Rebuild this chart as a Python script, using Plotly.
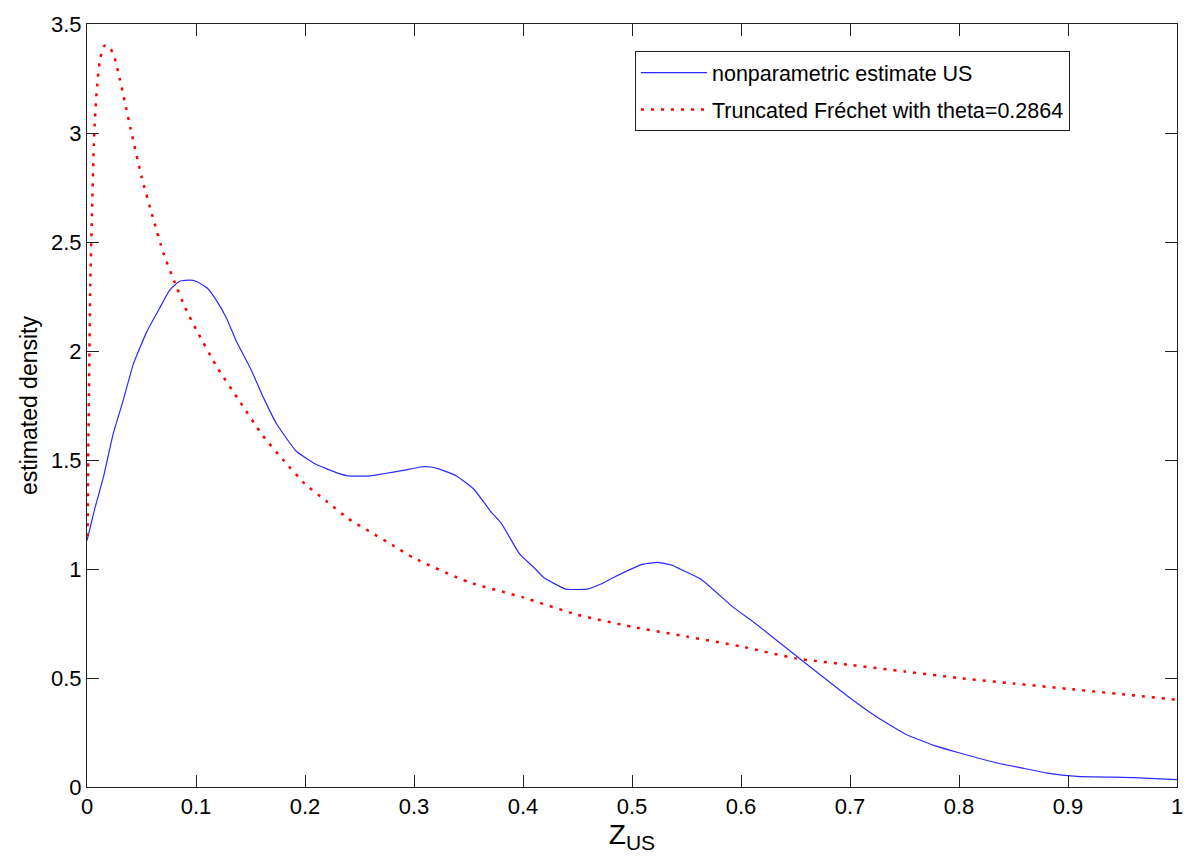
import plotly.graph_objects as go

# nonparametric estimate (blue)
blue_x = [0, 0.0073, 0.015, 0.024, 0.033, 0.0425, 0.055, 0.067, 0.076, 0.085, 0.0945, 0.1,
          0.11, 0.119, 0.128, 0.137, 0.15, 0.162, 0.174, 0.192, 0.211, 0.23, 0.24, 0.26,
          0.272, 0.29, 0.306, 0.315, 0.324, 0.339, 0.355, 0.37, 0.38, 0.397, 0.41, 0.419,
          0.439, 0.459, 0.471, 0.483, 0.51, 0.524, 0.538, 0.544, 0.563, 0.593, 0.612,
          0.654, 0.697, 0.725, 0.752, 0.777, 0.80, 0.835, 0.86, 0.881, 0.908, 0.96, 1.0]
blue_y = [1.13, 1.28, 1.42, 1.62, 1.77, 1.94, 2.09, 2.20, 2.28, 2.32, 2.325, 2.32,
          2.29, 2.23, 2.15, 2.045, 1.92, 1.785, 1.665, 1.54, 1.478, 1.44, 1.427, 1.427,
          1.437, 1.452, 1.468, 1.468, 1.457, 1.427, 1.366, 1.266, 1.21, 1.068, 1.007, 0.961,
          0.908, 0.908, 0.93, 0.961, 1.022, 1.03, 1.015, 1.0, 0.954, 0.824, 0.755,
          0.588, 0.42, 0.32, 0.24, 0.191, 0.157, 0.11, 0.085, 0.064, 0.049, 0.043, 0.034]

# truncated Frechet (red)
red_x = [0.0005, 0.001, 0.002, 0.003, 0.0045, 0.0065, 0.009, 0.012, 0.016, 0.02, 0.025,
         0.03, 0.04, 0.05, 0.06, 0.07, 0.08, 0.09, 0.1, 0.12, 0.14, 0.16, 0.18, 0.2, 0.22,
         0.24, 0.26, 0.28, 0.3, 0.35, 0.4, 0.45, 0.5, 0.55, 0.6, 0.65, 0.7, 0.75, 0.8,
         0.85, 0.9, 0.95, 1.0]
red_y = [1.15, 1.45, 1.9, 2.3, 2.62, 2.98, 3.2, 3.34, 3.40, 3.40, 3.35,
         3.25, 3.02, 2.8, 2.62, 2.45, 2.32, 2.2, 2.1, 1.92, 1.77, 1.62, 1.50, 1.39, 1.31,
         1.23, 1.17, 1.11, 1.05, 0.94, 0.87, 0.79, 0.735, 0.69, 0.645, 0.59, 0.56, 0.53, 0.50,
         0.475, 0.45, 0.425, 0.40]

x_ticks = [0, 0.1, 0.2, 0.3, 0.4, 0.5, 0.6, 0.7, 0.8, 0.9, 1]
x_labels = ["0", "0.1", "0.2", "0.3", "0.4", "0.5", "0.6", "0.7", "0.8", "0.9", "1"]
y_ticks = [0, 0.5, 1, 1.5, 2, 2.5, 3, 3.5]
y_labels = ["0", "0.5", "1", "1.5", "2", "2.5", "3", "3.5"]

FONT = "Liberation Sans, Arial, sans-serif"

fig = go.Figure()
fig.add_trace(go.Scatter(x=blue_x, y=blue_y, mode="lines",
                         name="nonparametric estimate US", legendgroup="a",
                         line=dict(color="#2B2BFF", width=1.2, shape="spline", smoothing=0.4)))
fig.add_trace(go.Scatter(x=red_x, y=red_y, mode="lines",
                         name="Truncated Fréchet with theta=0.2864", legendgroup="b",
                         line=dict(color="#FF0000", width=2.5, dash="3px,7px", shape="spline", smoothing=0.5)))

axis_common = dict(showline=True, linecolor="#222", linewidth=1, mirror="ticks",
                   ticks="inside", ticklen=12, tickwidth=1, tickcolor="#222",
                   showgrid=False, zeroline=False,
                   tickfont=dict(family=FONT, size=22, color="black"))

fig.update_layout(
    width=1197, height=863,
    margin=dict(l=87, r=20, t=22, b=76),
    plot_bgcolor="white", paper_bgcolor="white",
    font=dict(family=FONT, color="black"),
    xaxis=dict(range=[0, 1], tickvals=x_ticks, ticktext=x_labels,
               title=dict(text="Z<sub><span style='font-size:21px'>US</span></sub>",
                          font=dict(family=FONT, size=28), standoff=2),
               **axis_common),
    yaxis=dict(range=[0, 3.5], tickvals=y_ticks, ticktext=y_labels,
               title=dict(text="estimated density", font=dict(family=FONT, size=23), standoff=6),
               **axis_common),
    legend=dict(x=0.9018, y=0.9645, xanchor="right", yanchor="top",
                bgcolor="white", bordercolor="#222", borderwidth=1,
                font=dict(family=FONT, size=21.5, color="black"),
                traceorder="grouped", tracegroupgap=6, itemwidth=66),
    showlegend=True,
)

fig.write_html("out.html")
